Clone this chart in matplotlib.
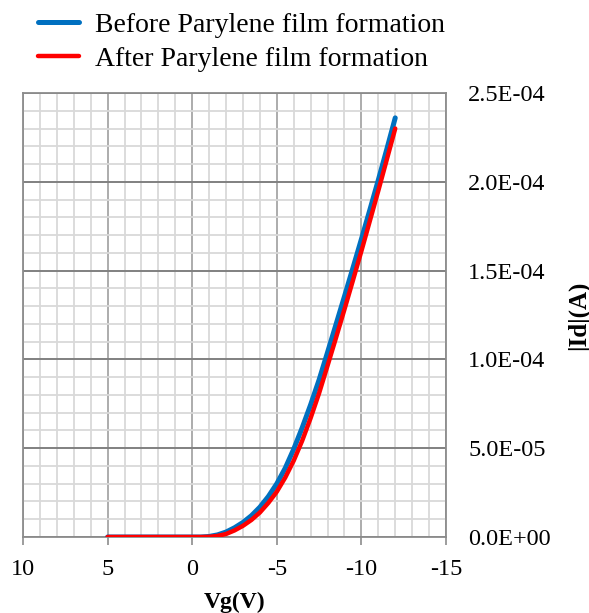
import matplotlib
matplotlib.use("Agg")
import matplotlib.pyplot as plt
import numpy as np

vg = [5, 4, 3, 2, 1, 0, -0.5, -1, -1.5, -2, -2.5, -3, -3.5, -4, -4.5, -5, -5.5, -6,
      -6.5, -7, -7.5, -8, -8.5, -9, -9.5, -10, -10.5, -11, -11.5, -12]
id_before = [0, 0, 0, 0, 0, 0, 0.0, 0.03, 0.12, 0.28, 0.52, 0.82, 1.2, 1.68, 2.28, 3.0,
             3.88, 4.95, 6.15, 7.45, 8.85, 10.4, 11.97, 13.55, 15.15, 16.77, 18.42,
             20.1, 21.83, 23.6]
id_after = [0, 0, 0, 0, 0, 0, 0.0, 0.01, 0.06, 0.17, 0.37, 0.63, 0.96, 1.38, 1.92, 2.55,
            3.35, 4.3, 5.42, 6.7, 8.1, 9.65, 11.22, 12.82, 14.45, 16.1, 17.8, 19.5,
            21.25, 23.0]
scale = 1e-5

x_ticks = [10, 5, 0, -5, -10, -15]
x_ticklabels = ["10", "5", "0", "-5", "-10", "-15"]
y_ticks = [0, 5e-5, 1e-4, 1.5e-4, 2e-4, 2.5e-4]
y_ticklabels = ["0.0E+00", "5.0E-05", "1.0E-04", "1.5E-04", "2.0E-04", "2.5E-04"]
labels = ["Before Parylene film formation", "After Parylene film formation"]
colors = ["#0070C0", "#FF0000"]

serif = "Liberation Serif"

fig = plt.figure(figsize=(5.89, 6.13), dpi=100)
ax = fig.add_axes([23/589, 1-537/613, (446-23)/589, (537-93)/613])

l1, = ax.plot(vg, np.array(id_before)*scale, color=colors[0], lw=3.6,
              solid_capstyle="round", zorder=3)
l2, = ax.plot(vg, np.array(id_after)*scale, color=colors[1], lw=3.2,
              solid_capstyle="round", zorder=4)

ax.set_xlim(10, -15)
ax.set_ylim(0, 2.5e-4)
ax.set_xticks(x_ticks)
ax.set_xticklabels(x_ticklabels, fontfamily=serif, fontsize=17.5)
ax.set_xticks(np.arange(-15, 11, 1), minor=True)
ax.set_yticks(y_ticks)
ax.set_yticklabels(y_ticklabels, fontfamily=serif, fontsize=17.5)
ax.set_yticks(np.arange(0, 2.5e-4 + 1e-9, 1e-5), minor=True)

ax.yaxis.tick_right()
ax.tick_params(axis="y", which="both", length=0, pad=16)
ax.tick_params(axis="x", which="major", length=6, width=1.2, color="#8c8c8c",
               direction="out", pad=9.5)
ax.tick_params(axis="x", which="minor", length=0)

ax.xaxis.grid(True, which="minor", color="#d9d9d9", lw=1.3)
ax.yaxis.grid(True, which="minor", color="#d9d9d9", lw=1.3)
ax.xaxis.grid(True, which="major", color="#a6a6a6", lw=1.3)
ax.yaxis.grid(True, which="major", color="#808080", lw=1.4)
ax.set_axisbelow(True)
for s in ax.spines.values():
    s.set_color("#8c8c8c")
    s.set_linewidth(1.3)

ax.set_xlabel("Vg(V)", fontfamily=serif, fontsize=17, fontweight="bold", labelpad=9)
ax.text(1.312, 0.5, "|Id|(A)", transform=ax.transAxes, rotation=90,
        ha="center", va="center", fontfamily=serif, fontsize=18, fontweight="bold")

fig.legend([l1, l2], labels, loc="upper left", bbox_to_anchor=(0.022, 1.02),
           frameon=False, prop={"family": serif, "size": 20},
           handlelength=1.47, handletextpad=0.58, labelspacing=0.3)

fig.savefig("out.png", dpi=100)
